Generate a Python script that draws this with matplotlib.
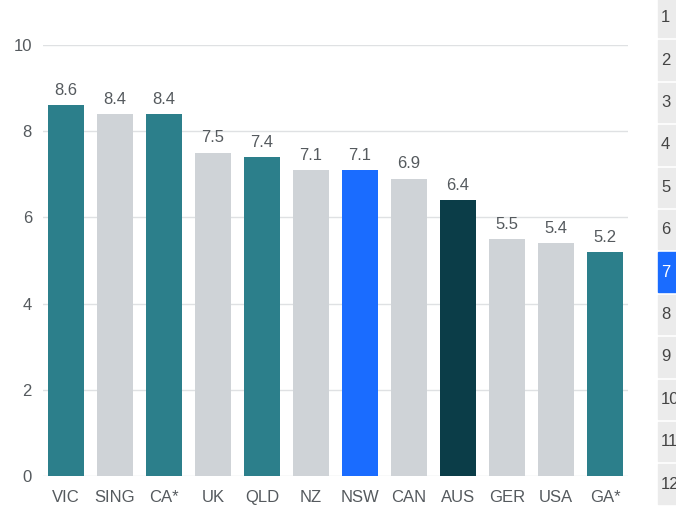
import matplotlib
matplotlib.use('Agg')
import matplotlib.pyplot as plt
from matplotlib.patches import Rectangle

# chart data
regions = ['VIC', 'SING', 'CA*', 'UK', 'QLD', 'NZ', 'NSW', 'CAN', 'AUS', 'GER', 'USA', 'GA*']
scores = [8.6, 8.4, 8.4, 7.5, 7.4, 7.1, 7.1, 6.9, 6.4, 5.5, 5.4, 5.2]
kinds = ['state', 'other', 'state', 'other', 'state', 'other', 'nsw', 'other', 'aus', 'other', 'other', 'state']
ranks = list(range(1, 13))
highlight_rank = 7

palette = {'state': '#2c7f8b', 'other': '#cfd3d7', 'nsw': '#1a6cff', 'aus': '#0b3d48'}

plt.rcParams['font.family'] = ['Liberation Sans', 'DejaVu Sans']

fig = plt.figure(figsize=(6.76, 5.12), dpi=100)
ax = fig.add_axes([43 / 676, 36 / 512, 585 / 676, 431 / 512])

x = range(len(regions))
ax.bar(x, scores, width=0.735, color=[palette[k] for k in kinds], zorder=3)
for i, v in zip(x, scores):
    ax.text(i, v + 0.17, f'{v:.1f}', ha='center', va='bottom', fontsize=12, color='#555a5e')

ax.set_xlim(-0.47, len(regions) - 0.53)
ax.set_ylim(0, 10)
ax.set_yticks([0, 2, 4, 6, 8, 10])
ax.set_xticks(list(x))
ax.set_xticklabels(regions)
ax.grid(axis='y', color='#dfe1e3', linewidth=1, zorder=0)
ax.tick_params(length=0, labelsize=12, labelcolor='#555a5e')
ax.tick_params(axis='x', pad=10)
ax.tick_params(axis='y', pad=8)
for s in ax.spines.values():
    s.set_visible(False)

# rank column cut off on the right
row_h = 42.4
top = -3.5
for n in ranks:
    y0 = top + (n - 1) * row_h
    hl = n == highlight_rank
    fig.patches.append(Rectangle((658 / 676, 1 - (y0 + row_h - 1.5) / 512), 30 / 676, (row_h - 3) / 512,
                                 transform=fig.transFigure, color='#1a6cff' if hl else '#ebebeb'))
    fig.text(661 / 676, 1 - (y0 + row_h / 2) / 512, str(n), ha='left', va='center', fontsize=12,
             color='white' if hl else '#444444')

plt.savefig('out.png', dpi=100)
